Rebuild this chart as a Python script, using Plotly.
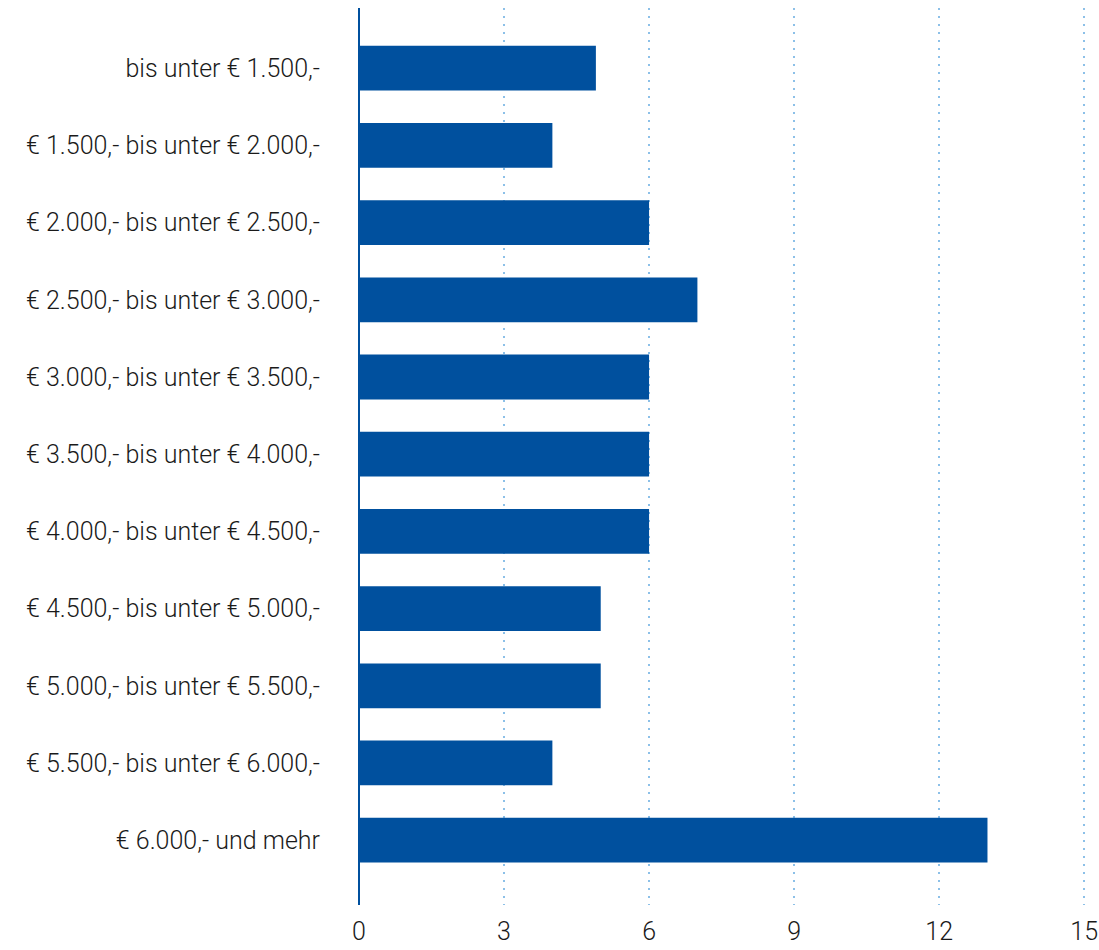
import plotly.graph_objects as go

categories = [
    "bis unter € 1.500,-",
    "€ 1.500,- bis unter € 2.000,-",
    "€ 2.000,- bis unter € 2.500,-",
    "€ 2.500,- bis unter € 3.000,-",
    "€ 3.000,- bis unter € 3.500,-",
    "€ 3.500,- bis unter € 4.000,-",
    "€ 4.000,- bis unter € 4.500,-",
    "€ 4.500,- bis unter € 5.000,-",
    "€ 5.000,- bis unter € 5.500,-",
    "€ 5.500,- bis unter € 6.000,-",
    "€ 6.000,- und mehr",
]
values = [4.9, 4, 6, 7, 6, 6, 6, 5, 5, 4, 13]
x_ticks = [0, 3, 6, 9, 12, 15]

BLUE = "#00509E"
GRID = "#8CC0E8"
TEXT = "#1a1a1a"

fig = go.Figure(
    go.Bar(
        x=values,
        y=categories,
        orientation="h",
        marker=dict(color=BLUE, line=dict(width=0)),
        width=0.58,
        hoverinfo="x+y",
    )
)

fig.update_layout(
    width=1099,
    height=950,
    autosize=False,
    margin=dict(l=359, r=10, t=8, b=45),
    paper_bgcolor="white",
    plot_bgcolor="white",
    font=dict(family="Roboto", size=25, color=TEXT, weight=300),
    showlegend=False,
)

fig.update_xaxes(
    range=[0, 15.1],
    tickvals=x_ticks,
    ticktext=[str(v) for v in x_ticks],
    showgrid=True,
    gridcolor=GRID,
    gridwidth=2,
    griddash="2px,6px",
    zeroline=True,
    zerolinecolor=BLUE,
    zerolinewidth=2,
    showline=False,
    ticks="",
    ticklabelstandoff=9,
    automargin=False,
    tickfont=dict(size=25, color=TEXT, weight=300),
)

fig.update_yaxes(
    type="category",
    categoryorder="array",
    categoryarray=categories,
    range=[10.84, -0.78],
    showgrid=False,
    zeroline=False,
    showline=False,
    ticks="",
    ticklabelstandoff=38,
    automargin=False,
    tickfont=dict(size=25, color=TEXT, weight=300),
)

fig.write_html(
    "out.html",
    config={"responsive": False, "displayModeBar": False},
    post_script="document.body.style.margin='0';document.body.style.overflow='hidden';",
)
